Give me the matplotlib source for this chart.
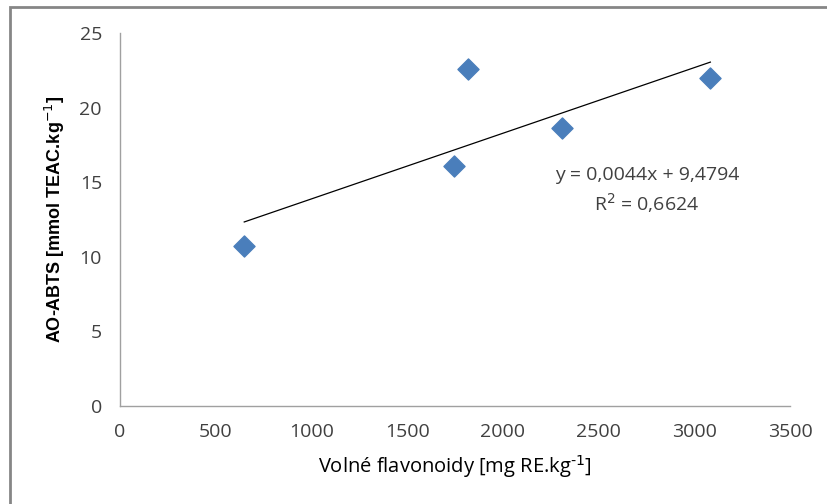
import matplotlib
matplotlib.use("Agg")
import matplotlib.pyplot as plt
from matplotlib.patches import Rectangle

# data
flavonoids = [649, 1745, 1820, 2309, 3084]      # Volné flavonoidy [mg RE.kg-1]
ao_abts = [10.74, 16.1, 22.57, 18.61, 22.0]      # AO-ABTS [mmol TEAC.kg-1]
slope, intercept, r2 = 0.0044, 9.4794, 0.6624    # Excel linear trendline
x_ticks = [0, 500, 1000, 1500, 2000, 2500, 3000, 3500]
y_ticks = [0, 5, 10, 15, 20, 25]

plt.rcParams["font.family"] = ["Open Sans", "DejaVu Sans"]

fig = plt.figure(figsize=(8.27, 5.04), dpi=100)
ax = fig.add_axes([120 / 827, 98 / 504, 670 / 827, 373 / 504])

ax.scatter(flavonoids, ao_abts, marker="D", s=115, color="#4a7ebb",
           edgecolors="#4a7ebb", zorder=3)

# trendline over the data range
x0, x1 = min(flavonoids), max(flavonoids)
ax.plot([x0, x1], [slope * x0 + intercept, slope * x1 + intercept],
        color="black", lw=0.9, zorder=2)

eq = f"y = {slope:.4f}x + {intercept:.4f}".replace(".", ",")
ax.text(2753, 15.5, eq, ha="center", va="center", fontsize=14, color="#404040")
ax.text(2753, 13.6, f"R$^2$ = {r2:.4f}".replace(".", ","), ha="center",
        va="center", fontsize=14, color="#404040")

ax.set_xlim(0, 3500)
ax.set_ylim(0, 25)
ax.set_xticks(x_ticks)
ax.set_yticks(y_ticks)
ax.tick_params(length=0, labelsize=14, colors="#404040")
ax.tick_params(axis="y", pad=13)
ax.tick_params(axis="x", pad=12)
for s in ("top", "right"):
    ax.spines[s].set_visible(False)
for s in ("left", "bottom"):
    ax.spines[s].set_color("#a0a0a0")
    ax.spines[s].set_linewidth(1)

ax.set_xlabel("Volné flavonoidy [mg RE.kg$^{\\text{-}1}$]", fontsize=14.5,
              color="black", labelpad=9)
ax.set_ylabel("AO-ABTS [mmol TEAC.kg$^{-1}$]", fontsize=13, fontweight="bold",
              family=["Liberation Sans", "DejaVu Sans"], labelpad=9)

# chart border (only top and left visible in the frame)
fig.add_artist(Rectangle((10 / 827, -0.2), 1.5, 1.2 - 6.5 / 504,
                         transform=fig.transFigure, fill=False,
                         edgecolor="#868686", lw=2, clip_on=False))

fig.savefig("out.png", dpi=100)
